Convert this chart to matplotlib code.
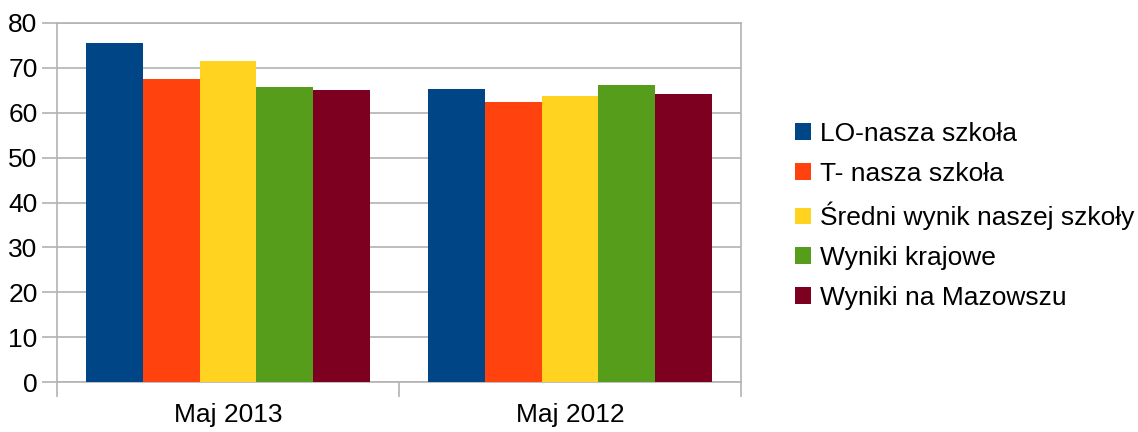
import matplotlib
matplotlib.use("Agg")
import matplotlib.pyplot as plt
import numpy as np

plt.rcParams['font.family'] = ['Liberation Sans', 'DejaVu Sans']

categories = ["Maj 2013", "Maj 2012"]
series_names = ["LO-nasza szkoła", "T- nasza szkoła", "Średni wynik naszej szkoły",
                "Wyniki krajowe", "Wyniki na Mazowszu"]
lo = [75.5, 65.3]
t = [67.5, 62.4]
sredni = [71.5, 63.8]
krajowe = [65.7, 66.1]
mazowsze = [65.0, 64.2]
colors = ["#004586", "#ff420e", "#ffd320", "#579d1c", "#7e0021"]
yticks = [0, 10, 20, 30, 40, 50, 60, 70, 80]

values = [lo, t, sredni, krajowe, mazowsze]

fig = plt.figure(figsize=(11.38, 4.32), dpi=100)
ax = fig.add_axes([57/1138, 1 - 382/432, (741-57)/1138, (382-23)/432])

n = len(values)
group_w = 0.833
bw = group_w / n
x = np.arange(len(categories))
for i, (vals, name, c) in enumerate(zip(values, series_names, colors)):
    ax.bar(x - group_w/2 + bw*(i+0.5), vals, width=bw, color=c, label=name, zorder=3)

ax.set_xlim(-0.5, len(categories) - 0.5)
ax.set_ylim(0, 80)
ax.set_yticks(yticks)
ax.set_yticklabels([str(v) for v in yticks], fontsize=19)
ax.yaxis.grid(True, color="#b3b3b3", linewidth=1.2, zorder=0)
ax.tick_params(axis='y', length=11, color="#b3b3b3", width=1.2, pad=3)

ax.set_xticks(x)
ax.set_xticklabels(categories, fontsize=19)
ax.tick_params(axis='x', which='major', length=0, pad=15)
ax.set_xticks([-0.5, 0.5, 1.5], minor=True)
ax.tick_params(axis='x', which='minor', length=11, color="#b3b3b3", width=1.2)

for s in ax.spines.values():
    s.set_color("#b3b3b3")
    s.set_linewidth(1.2)

leg = fig.legend(loc='center left', bbox_to_anchor=(795/1138, 1 - 216/432),
                 frameon=False, fontsize=19, handlelength=0.6, handleheight=0.6,
                 handletextpad=0.35, labelspacing=0.6, borderpad=0, borderaxespad=0)

fig.savefig("out.png", dpi=100)
